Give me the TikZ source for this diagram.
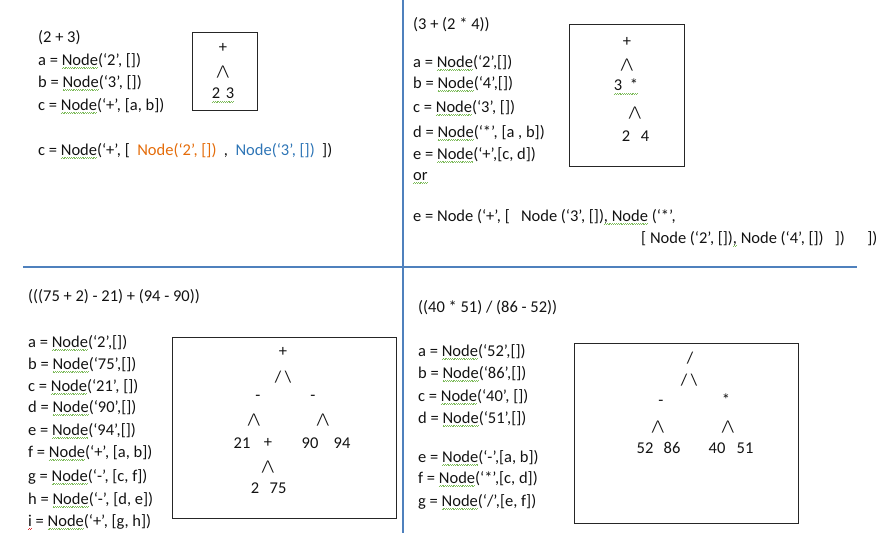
\documentclass[tikz,border=0pt]{standalone}
\usepackage{fontspec}
\setmainfont{Carlito}
\definecolor{linblue}{HTML}{4F81BD}
\definecolor{sqgreen}{HTML}{7DBB5A}
\definecolor{sqred}{HTML}{E03030}
\definecolor{txtorange}{HTML}{E46C0A}
\definecolor{txtblue}{HTML}{2E75B6}
\newsavebox\sqbox
\newcommand\sq[2][sqgreen]{\sbox\sqbox{#2}\rlap{\color{#1}\hbox to \wd\sqbox{\xleaders\hbox{\rule[-3.8pt]{0.9pt}{0.55pt}\rule[-2.9pt]{0.9pt}{0.55pt}}\hfill}}\usebox\sqbox}
\tikzset{
  code/.style={anchor=west,inner sep=0pt,font=\fontsize{16.5}{20}\selectfont,text=black!93},
  tree/.style={inner sep=0pt,font=\fontsize{16.5}{20}\selectfont,text=black!93},
  panel/.style={draw=black!85,line width=0.9pt,inner sep=0pt},
  divider/.style={draw=linblue,line width=2.6pt}
}
\newcommand\vv{/\kern-0.6pt\textbackslash}
\begin{document}
\begin{tikzpicture}[x=1pt,y=-1pt]
\useasboundingbox (0,0) rectangle (882,536);
% dividers
\draw[divider] (403,0) -- (403,533);
\draw[divider] (23,267) -- (857,267);
% ---------- Q1
\node[code] (q1e) at (38,38) {(2 + 3)};
\node[code] (q1a) at (38,61) {a = \sq{Node}(‘2’, [])};
\node[code] (q1b) at (38,83) {b = \sq{Node}(‘3’, [])};
\node[code] (q1c) at (38,106) {c = \sq{Node}(‘+’, [a, b])};
\node[code] (q1l) at (38,151) {c = \sq{Node}(‘+’, [\ \ \textcolor{txtorange}{Node(‘2’, [])}\ \ ,\ \ \textcolor{txtblue}{Node(‘3’, [])}\ \ ])};
\node[panel,minimum width=65pt,minimum height=78pt] (box1) at (224.5,71) {};
\node[tree] (t1a) at (223,48) {+};
\node[tree] (t1b) at (223,72) {\vv};
\node[tree] (t1c) at (223,95) {\sq{2\,\,3}};
% ---------- Q2
\node[code] (q2e) at (413,25) {(3 + (2 * 4))};
\node[code] (q2a) at (413,63) {a = \sq{Node}(‘2’,[])};
\node[code] (q2b) at (413,84) {b = \sq{Node}(‘4’,[])};
\node[code] (q2c) at (413,108) {c = \sq{Node}(‘3’, [])};
\node[code] (q2d) at (413,133) {d = \sq{Node}(‘*’, [a , b])};
\node[code] (q2f) at (413,155) {e = \sq{Node}(‘+’,[c, d])};
\node[code] (q2o) at (413,178) {\sq{or}};
\node[code] (q2l1) at (413,217) {e = Node (‘+’, [\ \ \ Node (‘3’, [])\sq{,\ Node} (‘*’,};
\node[code] (q2l2) at (641,239) {[ Node (‘2’, [])\sq{,} Node (‘4’, [])\ \ \ ])\ \ \ \ \ \ ])};
\node[panel,minimum width=115pt,minimum height=142pt] (box2) at (626.5,95) {};
\node[tree] (t2a) at (627,42) {+};
\node[tree] (t2b) at (627,65) {\vv};
\node[tree] (t2c) at (626,87) {\sq{3\ \ *}};
\node[tree] (t2d) at (635,113) {\vv};
\node[tree] (t2e) at (626,136) {2};
\node[tree] (t2f) at (645,136) {4};
% ---------- Q3
\node[code] (q3e) at (28,297) {(((75 + 2) - 21) + (94 - 90))};
\node[code] (q3a) at (28,343) {a = \sq{Node}(‘2’,[])};
\node[code] (q3b) at (28,365) {b = \sq{Node}(‘75’,[])};
\node[code] (q3c) at (28,387) {c = \sq{Node}(‘21’, [])};
\node[code] (q3d) at (28,408) {d = \sq{Node}(‘90’,[])};
\node[code] (q3f) at (28,431) {e = \sq{Node}(‘94’,[])};
\node[code] (q3g) at (28,453) {f = \sq{Node}(‘+’, [a, b])};
\node[code] (q3h) at (28,477) {g = \sq{Node}(‘-’, [c, f])};
\node[code] (q3i) at (28,500) {h = \sq{Node}(‘-’, [d, e])};
\node[code] (q3j) at (28,522) {\sq[sqred]{i} = \sq{Node}(‘+’, [g, h])};
\node[panel,minimum width=224pt,minimum height=181pt] (box3) at (284,427.5) {};
\node[tree] (t3a) at (283,352) {+};
\node[tree] (t3b) at (283,377) {/ \textbackslash};
\node[tree] (t3c) at (258,398) {-};
\node[tree] (t3d) at (313,398) {-};
\node[tree] (t3e) at (254,420) {\vv};
\node[tree] (t3f) at (323,420) {\vv};
\node[tree] (t3g) at (242,443) {21};
\node[tree] (t3h) at (268,443) {+};
\node[tree] (t3i) at (310,443) {90};
\node[tree] (t3j) at (342,443) {94};
\node[tree] (t3k) at (268,467) {\vv};
\node[tree] (t3l) at (255,488) {2};
\node[tree] (t3m) at (278,488) {75};
% ---------- Q4
\node[code] (q4e) at (418,308) {((40 * 51) / (86 - 52))};
\node[code] (q4a) at (418,352) {a = \sq{Node}(‘52’,[])};
\node[code] (q4b) at (418,374) {b = \sq{Node}(‘86’,[])};
\node[code] (q4c) at (418,397) {c = \sq{Node}(‘40’, [])};
\node[code] (q4d) at (418,419) {d = \sq{Node}(‘51’,[])};
\node[code] (q4f) at (418,458) {e = \sq{Node}(‘-’,[a, b])};
\node[code] (q4g) at (418,479) {f = \sq{Node}(‘*’,[c, d])};
\node[code] (q4h) at (418,502) {g = \sq{Node}(‘/’,[e, f])};
\node[panel,minimum width=224pt,minimum height=180pt] (box4) at (686,433) {};
\node[tree] (t4a) at (690,358) {/};
\node[tree] (t4b) at (689,380) {/ \textbackslash};
\node[tree] (t4c) at (661,403) {-};
\node[tree] (t4d) at (726,400) {*};
\node[tree] (t4e) at (658,427) {\vv};
\node[tree] (t4f) at (728,427) {\vv};
\node[tree] (t4g) at (645,448) {52};
\node[tree] (t4h) at (672,448) {86};
\node[tree] (t4i) at (717,448) {40};
\node[tree] (t4j) at (745,448) {51};
\end{tikzpicture}
\end{document}
